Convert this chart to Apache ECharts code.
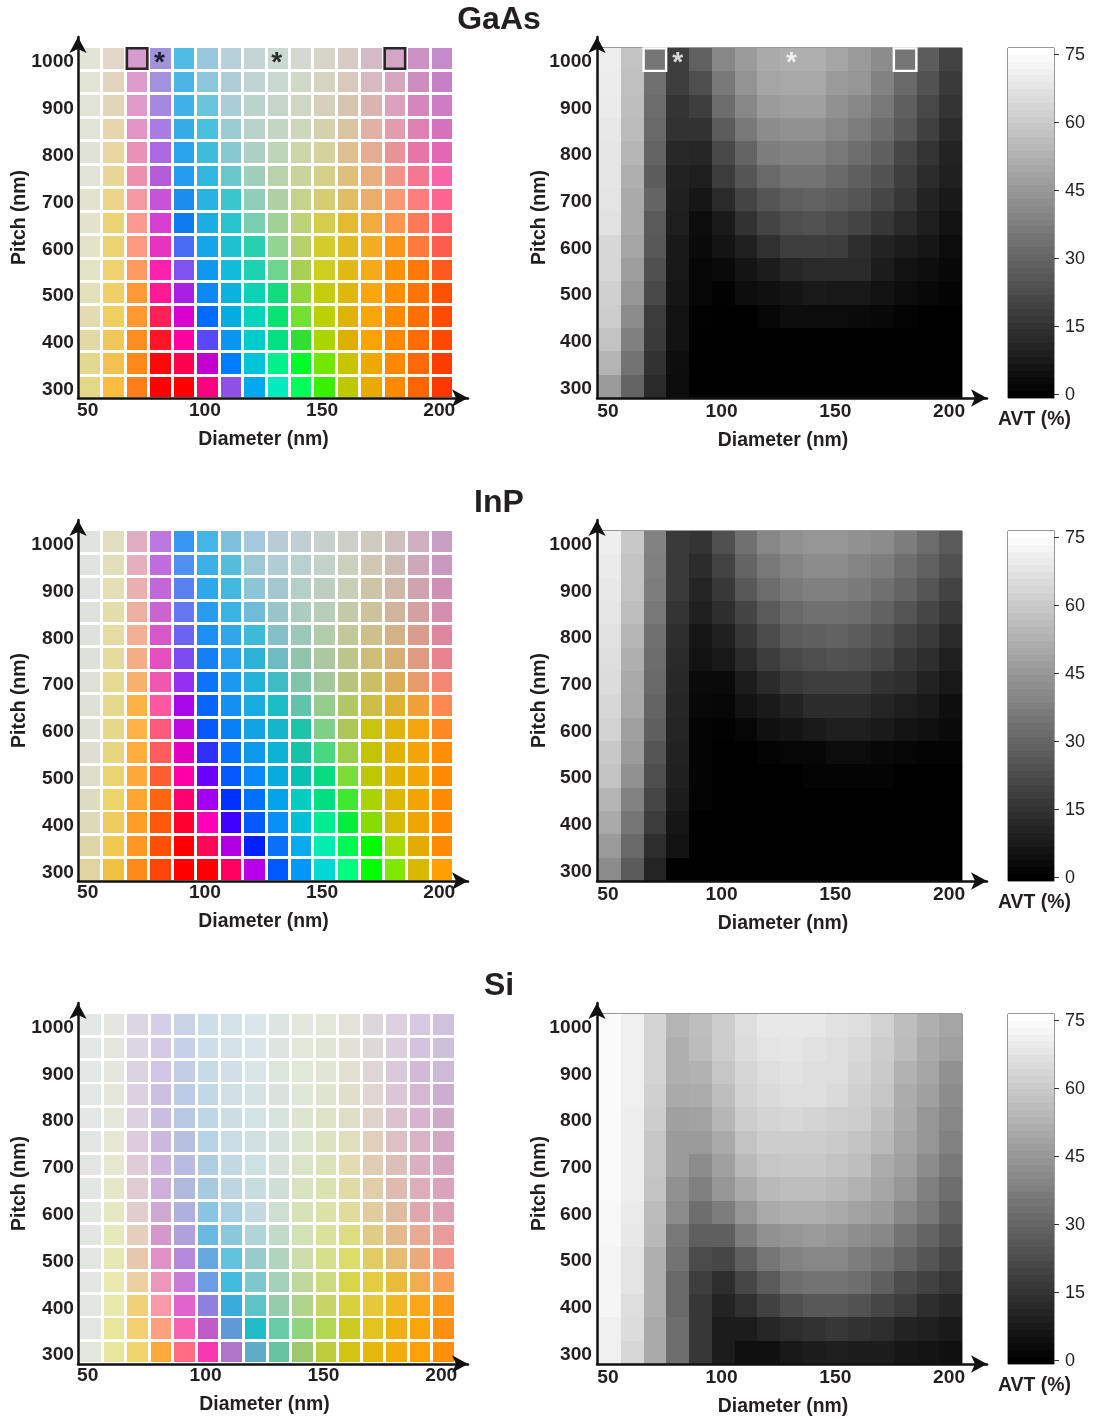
<!DOCTYPE html>
<html><head><meta charset="utf-8">
<style>html,body{margin:0;padding:0;background:#fff}#c{width:1094px;height:1420px}</style>
<script src="https://cdn.jsdelivr.net/npm/echarts@6/dist/echarts.min.js"></script>
</head><body><div id="c"></div>
<script>
const diameters = ['50','60','70','80','90','100','110','120','130','140','150','160','170','180','190','200'];
const pitches = ['300','350','400','450','500','550','600','650','700','750','800','850','900','950','1000'];
const colorbarLevels = [0,1.5,3,4.5,6,7.5,9,10.5,12,13.5,15,16.5,18,19.5,21,22.5,24,25.5,27,28.5,30,31.5,33,34.5,36,37.5,39,40.5,42,43.5,45,46.5,48,49.5,51,52.5,54,55.5,57,58.5,60,61.5,63,64.5,66,67.5,69,70.5,72,73.5,75];
const colorbarTicks = [0,15,30,45,60,75];
const panelTitles = ['GaAs','InP','Si'];
const boxedDiameters = ['70','180'];
const starredDiameters = ['80','130'];

// rows run from pitch 1000 (first) to pitch 300 (last)
const gaasColors = [
['#e2e4d6','#e3d5c7','#d69cd0','#a093dc','#50bbe4','#99c8de','#b7d0da','#c5d5d6','#cbd9d3','#d3d9cc','#d6d5c7','#d9cbc3','#d6bbc6','#d2a6c4','#cc92c5','#c58bcd'],
['#e2e4d6','#e3d4bd','#dc9ccc','#a191de','#4db5e6','#8cc6dc','#afcdd8','#c1d4d3','#c8d8cf','#d0d8c8','#d5d4c0','#d8c9bc','#d9b9c0','#d6a5c0','#cf8dbf','#c581c8'],
['#e1e3d6','#e3d5b8','#de9ac8','#a589e0','#40b0e8','#6ac4dc','#a8ced6','#bcd3cd','#c6d5c8','#cfd7c3','#d5d1b8','#d7c5b0','#dab4b0','#dca2bd','#d586bc','#cc7dc4'],
['#e1e3d6','#e6d5ae','#e295c4','#a97ce4','#33ace8','#48c0de','#9accd4','#b7d3c9','#c3d5c3','#ced7b9','#d5d1ac','#dac4a0','#e0b1a4','#e29cad','#dd80b2','#d572bd'],
['#e0e2d5','#e7d6a2','#e893b5','#ac68e0','#2ba3ec','#3dbcdc','#88c8d0','#add0c5','#bed5b8','#cdd6a8','#d5d29c','#dcc090','#e4ae93','#e6949a','#e675a8','#e268b5'],
['#e1e3d6','#e9d596','#ee8fb0','#b55cd8','#239ded','#31b7df','#6bc6cc','#a0ceb9','#bad2ac','#c9d49a','#d5d088','#dfbf7c','#e7ae80','#ef9686','#f4788f','#f565a8'],
['#e1e3ce','#ebd488','#f59aa4','#c853d8','#1c8cee','#2ab3e2','#3ac6cc','#90ceb8','#aed1a4','#c5d28c','#d6cc70','#e2bd63','#ecae6c','#f69a74','#fe7d7d','#ff638e'],
['#e2e3cb','#ecd475','#fa9a90','#d63fd0','#107bf0','#1eace5','#28c3cc','#78cfb2','#a0d296','#bfd278','#d6cb4c','#e4bb30','#f1ac3e','#fb964e','#ff7858','#ff5e6e'],
['#e2e3c8','#ecd372','#ff9a80','#e733bd','#4a6cf5','#14a6e8','#1ec2cf','#28d0b0','#90d590','#b8d06a','#d3cc2b','#e0ba20','#f0ae22','#fb961a','#ff7a3c','#ff5c50'],
['#e3e4c4','#edd26e','#ff9a5e','#fc20ad','#7e53f0','#0f98ee','#12bbd8','#1ed2b0','#6cd68a','#a9d052','#cdce1e','#dfba14','#f4ab18','#fb9106','#ff7808','#ff5a1c'],
['#e2e1bc','#efd068','#ff9a34','#ff1a94','#a820e4','#0c88f4','#0cb2de','#0ed2b5','#12dc7e','#93d63a','#c4cc0c','#dfb80c','#f8a80e','#ff8e04','#ff7406','#ff5200'],
['#e2dcb0','#efcf60','#ff982e','#ff2058','#d800d0','#006cff','#04acdf','#04d4bc','#0ae272','#72e030','#bbd005','#e0b406','#f9a60a','#ff8a00','#ff7000','#ff4c00'],
['#e2d9a4','#f0c858','#ff8e20','#ff1428','#ff00a0','#5a48ff','#0896f0','#00cccc','#02e080','#30e030','#acd400','#deb000','#faa404','#ff8800','#ff6c00','#ff4800'],
['#e2d890','#f4c050','#ff8818','#ff0808','#ff0050','#c400d0','#007cff','#00c4d8','#00f08c','#00fc28','#70e800','#c8c400','#ecaa00','#ff8800','#ff6808','#ff3c00'],
['#e3d888','#fcbc40','#ff7e18','#ff0000','#ff0000','#ff0080','#9050e8','#00a8f0','#00ecc0','#00ff58','#38f000','#bcc800','#e8ac00','#ff8a00','#ff6400','#ff3800']
];
const inpColors = [
['#e0e3e0','#e2dfc0','#e0aec0','#bd78e0','#3896f0','#45b5e8','#80c0dc','#a6c8dc','#b8ccd8','#bfcfd4','#c6d1ce','#cdcfc8','#cfcbc0','#cfbfbf','#ceafc0','#c8a0c5'],
['#e0e3e0','#e2dfbc','#e5b0bd','#c06cdf','#5090f0','#3cafe8','#55bcdc','#9cc8d8','#b0ccd4','#bad0d0','#c2d2c8','#cad0bc','#d0c8b4','#cebcb4','#cea8b8','#c898c0'],
['#dfe2de','#e3deb4','#e8b0b0','#c268d6','#5a80f0','#2ea8ec','#45b8e0','#8cc4d8','#a4c8d0','#b4cec8','#bccfc0','#c8cfb4','#cec5a8','#d0b8a8','#cfa4ae','#ce90b5'],
['#dee1dc','#e3ddac','#ecb0a0','#cc64d0','#6478f0','#289ced','#3cb4e2','#70bcd8','#98c4cc','#acccc0','#b8ceb8','#c4caa8','#ccc29c','#d2b49c','#d4a0a0','#d48eae'],
['#dee1dc','#e5dca4','#f0b094','#d658c8','#6a64f0','#1c90f0','#30a8e8','#3cbad8','#84c0c8','#9cc8b8','#b0ccaa','#c2c89a','#cdc08c','#d4b288','#da9c8c','#de88a0'],
['#dee1da','#e5db9c','#f4ae84','#e450be','#7c4cf0','#1480f4','#24a0ec','#2cb4d8','#6cbcc4','#90c4ac','#acc89e','#bcc688','#ccbe78','#d8ae72','#e09c80','#e8848e'],
['#dfe1d8','#e4da94','#f8b06e','#f058b0','#9430f0','#0c74f8','#1a9aee','#22b2da','#40bcc4','#80c4ac','#a0c898','#b8c47c','#ccbe64','#dcae5c','#e89c6c','#f48874'],
['#dfe1d6','#e4d98c','#fbb444','#ff58a0','#a808e8','#0866ff','#1490f4','#18acdf','#1cbcc4','#60c4ac','#94cc8c','#b0c864','#ccbe44','#e0b02e','#f0a038','#ff8850'],
['#dfe1d4','#e4d888','#feb444','#ff5a7c','#c008e0','#0858ff','#0880f8','#10a4e4','#14b6cc','#1cc4a8','#80cf88','#acc858','#cac410','#e2b410','#f4a40c','#ff8820'],
['#dedfd0','#e5d680','#ffae3c','#ff5c5c','#e000c0','#3030fc','#0870fa','#0c98ec','#0cb2d4','#14c4a4','#48d880','#9cd048','#c4c404','#e2b200','#f4a408','#ff8c04'],
['#dedec8','#e8d470','#ffaa38','#ff5e30','#ff00a8','#6a00ff','#0858ff','#0888fa','#08acdc','#08c0b0','#08dc80','#7cdc3c','#bcc800','#e0b400','#f4a404','#ff8a00'],
['#dedcc0','#ebd568','#ffa630','#ff6410','#ff0070','#a400f0','#0030ff','#0070ff','#04a4ec','#04ccc0','#00e080','#40e830','#a8d400','#dcb800','#f4a400','#ff8a00'],
['#dedab8','#eecc60','#ff9e26','#ff5808','#ff0030','#ff00b8','#4000ff','#0858ff','#0890f8','#00c0d8','#00ec90','#04ec3c','#88dc00','#d4bc00','#f0a400','#ff8a00'],
['#dfd6a8','#f0c850','#ff9620','#ff5004','#ff0000','#ff0858','#b000e0','#0020ff','#0870f8','#08acec','#00ecb0','#00f854','#00fa00','#a8d800','#e0ac00','#ff8a00'],
['#e0d4a0','#f0c040','#ff8a18','#ff4408','#ff0000','#ff0000','#ff0060','#b800e8','#0058ff','#0098fa','#00d8d8','#00fc80','#00ff00','#80e800','#d8b800','#ffa000']
];
const siColors = [
['#e3e7e5','#e5e5e2','#dcd6e4','#d4cfe6','#c9d3e8','#ceddea','#d5e1e9','#dbe6eb','#dde5e2','#e1e7dd','#e3e7da','#e2e1da','#ddd6da','#dbcfe0','#d4c9e0','#d1c2dc'],
['#e3e7e5','#e5e6de','#dcd6e4','#d3cbe5','#c5d1e8','#cddeeb','#d4e1e9','#d9e5e8','#dde5e0','#e1e8da','#e0e6d5','#e2e1d5','#ded9d8','#dccede','#d4c2df','#cfc0da'],
['#e3e7e5','#e5e6dd','#dcd3e2','#d0c5e5','#c2cee6','#c6dbe6','#d1e0e8','#d9e5e7','#dbe5dc','#e0e8d8','#e0e5d4','#e2e0d0','#ded6d6','#dac9da','#d2b9da','#cdb9d8'],
['#e3e7e5','#e5e6da','#ddd0e0','#ccc0e0','#bccce6','#c1d7e6','#d0dfe6','#d5e2e3','#d9e3dc','#dfe7d7','#dfe4d0','#e0dfcc','#e0d5d0','#dbc6d6','#d5b7d3','#ccaed0'],
['#e3e7e5','#e5e7d8','#dcd0e0','#c9bee2','#b8c9e4','#bfd6e6','#ccdde4','#d3e2e4','#d7e4de','#dde4d0','#dee3c7','#dfdec6','#dfd2c9','#dcc2cc','#d8b3d0','#d0a8c8'],
['#e3e7e4','#e6e8d3','#dccbdc','#cab8e0','#b8c0e2','#b7d2e6','#c8dde5','#d0e0e2','#d5e1dc','#dce6cf','#dde3bf','#e1dfbb','#e1cfbd','#dec0c4','#d9b2c4','#d4a7c5'],
['#e2e7e3','#e6e8cf','#dfccd8','#cdb5dd','#b7bce0','#aecde2','#c2d8e3','#cde0e3','#d5e1d9','#dbe4c7','#dde3b9','#e2dcb0','#e0ccb2','#ddbfba','#daafc0','#d5a5bf'],
['#e1e7e2','#e5e7c8','#e0cbd3','#cfb0db','#b0b8de','#a8cae0','#bcd5e1','#c8dcdf','#d0dfd5','#d8e2c0','#dae2b0','#e0daa4','#e1cea8','#dfbab0','#ddaeba','#d8a3bb'],
['#e2e7e2','#e6e8c4','#e2ccce','#d0a8d4','#aeb0e0','#88c5e2','#a9d0e0','#c2d9df','#ccdfd0','#d8e2b8','#dbe2a8','#dfdc9c','#e0cc9c','#dfbca0','#e0a8ad','#dea0b4'],
['#e2e7e2','#e6e9bc','#e6cebc','#d698cc','#b0a0dc','#68b8e2','#8cc8dc','#b0d4d8','#c0dcc8','#d1e2b4','#d8e29c','#dcdc80','#e0cc84','#e4ba8c','#e8aa94','#e89c9c'],
['#e2e7e2','#e6e9b4','#e8c8ac','#e090c4','#b488dc','#68a8e0','#60c2dc','#98cccc','#b0d4bc','#ccdfa8','#d6e08c','#dcdc68','#e0cc60','#e6bc70','#ecaa7c','#f09888'],
['#e2e7e2','#e8eab0','#ecd0a0','#ee96b8','#c87cd8','#6c9ce4','#40bcdc','#7cc8cc','#a4d2b8','#bed89c','#cedc80','#d6d648','#e2cc40','#e8bc38','#f0ae50','#f8a058'],
['#e2e7e2','#e8eaac','#f0d078','#f898a8','#e064cc','#8e80dc','#38acdc','#5cc4c8','#94cdac','#b0d48c','#c8d468','#d8d03c','#e6c838','#f0b824','#faa818','#ff9818'],
['#e2e5e0','#e8e69c','#f2d070','#ffa07c','#f860b0','#c05cc8','#6098d8','#20bcc8','#68cca8','#90d480','#b0d850','#cccc20','#e4c41c','#f0b010','#fca40c','#ff9010'],
['#e3e6da','#e8e69c','#f2d46c','#ffa83c','#ff6c84','#f838b0','#b074c8','#60acc8','#68c4a0','#9cc870','#bccc3c','#d4c414','#e4b80c','#f4ac0c','#ffa008','#ff9008']
];
const gaasAvt = [
[70,57.4,34.7,18.2,28.2,39.7,45.6,50,51.5,51.5,48.5,45.6,41.2,34.7,27,19.4],
[69.4,56.5,33,18.2,23,35.3,43.5,48.5,49.4,49.4,45.6,44.1,38.2,30.9,24.1,17],
[69.1,55.9,31.8,15.3,18.2,31.8,39.7,45.6,47,47,42.6,39.7,35.3,27.9,21.2,15.3],
[68.2,55.3,30.9,14.7,14.7,27,35.3,41.2,42.6,42.6,39.7,36.8,31.8,25.9,18.8,12.9],
[67.6,53.5,29.4,11.8,11.2,21.2,29.4,36.8,38.2,38.2,35.3,32.4,27.9,20.6,15.3,10.3],
[67.6,51.5,27,10,8.8,17.6,25,30.9,33.8,33.8,30.9,27.9,24.1,18.2,12.9,9.4],
[67.1,50,29.4,9.4,6.5,12.4,20,25,27.9,28.8,27,25,20.6,16.2,10.3,7.4],
[66.2,50,26.5,8.8,3.5,7.6,14.7,20,22.9,24.1,22,20,16.2,12.4,8.8,5.3],
[63.2,48.5,25.9,7.4,2.9,5.9,9.4,14.1,18.2,18.2,17.6,13.2,10.3,8.2,6.5,3.5],
[63.2,46.5,23.5,7.1,1.8,2.9,5.9,8.2,11.2,12.4,12.4,12.4,8.2,5.3,4.1,2.4],
[61.2,44.1,21.2,6.5,1.8,0.6,3.5,4.7,5.9,7.6,7.1,7.1,5.3,3.5,2.4,1.2],
[60.3,41.2,17.6,5.3,0.6,0,0,1.8,3.5,3.5,3.5,2.9,2.4,1.2,0,0],
[57.4,37.6,17.1,5.3,0,0,0,0,0,0,0,0,0,0,0,0],
[52.9,33.8,14.7,4.1,0,0,0,0,0,0,0,0,0,0,0,0],
[45.6,29.4,12.4,3.5,0,0,0,0,0,0,0,0,0,0,0,0]
];
const inpAvt = [
[70,58.8,38.2,17,15.3,23.5,32.9,39.7,42.6,44.1,44.1,42.6,41.2,36.8,31.8,26.5],
[69.1,57.4,37.6,17,12.9,19.4,29.4,35.3,38.8,41.2,41.2,38.8,36.8,32.4,28.2,23.5],
[68.2,57.4,36.8,17,10.6,16.5,25.9,31.8,35.9,37.6,37.6,35.9,32.9,29.4,24.7,19.4],
[67.6,55.9,35.3,15.3,9.4,13.5,20,26.5,30.9,32.9,32.9,31.8,28.8,24.7,20.6,16.5],
[66.2,53.5,32.9,13.5,6.5,9.4,16.2,22.1,27.1,27.9,28.8,27.1,24.1,20,17.1,12.4],
[65.3,51.5,31.8,12.4,5.3,7.1,12.4,17.6,21.2,22.9,24.1,22.9,20.6,16.2,13.5,9.4],
[64.7,50,30.9,11.8,2.9,2.9,8.2,12.4,16.5,18.2,18.2,18.2,14.7,13.5,10,7.1],
[63.2,49.4,29.4,11.2,2.4,1.8,5.3,7.6,10,12.9,12.9,12.9,10.6,8.8,7.1,4.1],
[61.8,47,27.9,10.6,1.2,0.6,1.8,4.7,5.9,7.6,8.8,8.8,7.6,5.9,4.7,2.9],
[58.8,45.6,25,10,1.2,0,0,1.2,1.8,1.8,3.5,3.5,2.4,1.8,1.2,1.2],
[57.4,42.6,22.9,9.4,1.2,0,0,0,0,1.2,1.2,1.2,1.2,0,0,0],
[52.9,38.2,20.6,8.2,1.2,0,0,0,0,0,0,0,0,0,0,0],
[50,34.7,17.6,6.5,0,0,0,0,0,0,0,0,0,0,0,0],
[45.6,30.9,13.2,5.3,0,0,0,0,0,0,0,0,0,0,0,0],
[41.2,26.5,10.6,0,0,0,0,0,0,0,0,0,0,0,0,0]
];
const siAvt = [
[73.5,70.6,62.4,52.9,55.9,60.3,65.3,68.2,68.2,68.2,66.5,65.3,61.8,55.9,51.5,48.5],
[73.5,70.6,62.4,51.5,55.3,60.3,64.7,67.1,67.6,66.5,65.3,63.5,60.3,55.3,50,47],
[73.5,70.6,62.4,51.5,52.4,58.2,62.9,65.3,66.5,65.3,65.3,62.4,59.4,52.4,48.5,42.6],
[73.5,70.6,61.2,50,50.6,55.9,61.8,64.1,65.3,65.3,64.1,61.2,58.2,50.6,47,41.2],
[73.5,70,60.3,47,47.6,53.5,60.3,62.4,63.2,62.4,61.2,60.3,55.9,50,44.1,39.7],
[73.5,70,58.2,45.6,45.6,50,57.4,60.3,60.3,60.3,59.4,57.4,54.4,48.5,44.1,38.2],
[73.5,70,58.2,45.6,41.2,47,54.4,58.2,58.8,58.8,57.4,55.9,50.6,47,41.2,35.3],
[73.5,70,57.4,42.6,37.6,44.1,50,54.4,55.9,55.9,54.4,52.4,48.5,44.1,37.6,32.4],
[72.9,69.1,55.3,41.2,32.4,36.8,44.1,50,51.5,51.5,50,47.6,45.6,39.7,35.3,28.8],
[72.9,68.2,54.4,35.3,27.9,27.9,36.8,42.6,44.1,45.6,44.1,41.8,39.7,33.8,29.4,25],
[72,67.1,51.5,33.8,22.1,20.6,27.9,34.7,38.2,39.7,39.7,36.8,33.8,29.4,25,20.6],
[72,67.1,51.5,30.9,18.2,13.2,20.6,26.5,32.4,33.8,33.8,32.4,27.9,22.1,19.1,16.2],
[72,65.3,51.5,30.9,16.2,10.3,14.1,19.1,23.5,25.9,25.9,24.1,20.6,17.6,13.2,11.2],
[70.6,64.7,50,32.4,16.2,8.2,8.2,11.2,13.2,14.7,16.2,14.7,13.2,10.3,9.4,7.6],
[70.6,63.2,50,32.4,16.2,8.2,4.4,4.4,7.1,8.2,8.8,8.2,8.2,6.5,5.9,4.7]
];

const colorSets = [gaasColors, inpColors, siColors];
const avtSets = [gaasAvt, inpAvt, siAvt];

const FONT = '"Liberation Sans", Arial, sans-serif';
const INK = '#231f20';
const ROW_TOP = [48, 531, 1014];
const AXIS_H = 350;
const CELL_TOP_SHIFT = 1.2;
const LEFT_X = 78.5, LEFT_W = [375, 375, 377], LEFT_H = [352, 351.5, 351];
const RIGHT_X = 598, RIGHT_W = 364;
const BAR_X = 1008, BAR_W = 46;

const grids = [], xAxes = [], yAxes = [], series = [], titles = [];
const tickLabel = {fontFamily: FONT, fontWeight: 'bold', fontSize: 19.2, color: INK};
const nameStyle = {fontFamily: FONT, fontWeight: 'bold', fontSize: 19.4, color: INK};

function addGrid(g, x, y) {
  const gi = grids.length; grids.push(g);
  const xi = xAxes.length; xAxes.push(Object.assign({gridIndex: gi}, x));
  const yi = yAxes.length; yAxes.push(Object.assign({gridIndex: gi}, y));
  return {gi, xi, yi};
}
function catAxes(o) {
  return [{
    type: 'category', data: diameters, boundaryGap: true,
    axisLine: {show: false}, axisTick: {show: false}, splitLine: {show: false},
    axisLabel: Object.assign({interval: 4, margin: o.xMargin, hideOverlap: false, padding: [0, o.xPad, 0, 0]}, tickLabel),
    name: 'Diameter (nm)', nameLocation: 'middle', nameGap: o.nameGap,
    nameTextStyle: Object.assign({padding: o.namePad}, nameStyle)
  }, {
    type: 'category', data: pitches, boundaryGap: true,
    axisLine: {show: false}, axisTick: {show: false}, splitLine: {show: false},
    axisLabel: {interval: 1, margin: o.yMargin, hideOverlap: false, formatter: '{v|{value}}',
      rich: {v: Object.assign({padding: [o.yPad, 0, 0, 0]}, tickLabel)}}
  }];
}
function arrows(x, top, bottom, width, nameGap) {
  const ax = {
    type: 'value', min: 0, max: 1, z: 6,
    axisLine: {show: true, symbol: ['none', 'arrow'], symbolSize: [13, 16], lineStyle: {color: '#111', width: 2.5}},
    axisTick: {show: false}, axisLabel: {show: false}, splitLine: {show: false}
  };
  addGrid({left: x, top: top, width: width, height: bottom - top},
    Object.assign({}, ax),
    Object.assign({}, ax, {name: 'Pitch (nm)', nameLocation: 'middle', nameGap: nameGap, nameTextStyle: nameStyle}));
}
function cellRenderer(gap) {
  return function (params, api) {
    const c = api.coord([api.value(0), api.value(1)]);
    const s = api.size([1, 1]);
    const x0 = Math.round(c[0] - s[0] / 2 + gap / 2), x1 = Math.round(c[0] + s[0] / 2 - gap / 2);
    const y0 = Math.round(c[1] - s[1] / 2 + gap / 2), y1 = Math.round(c[1] + s[1] / 2 - gap / 2);
    return {type: 'rect', shape: {x: x0, y: y0, width: x1 - x0, height: y1 - y0}, style: {fill: api.visual('color')}};
  };
}
function cells(ax, data, gap) {
  series.push({type: 'custom', renderItem: cellRenderer(gap), xAxisIndex: ax.xi, yAxisIndex: ax.yi,
    encode: {x: 0, y: 1}, data: data, z: 2, silent: true, clip: false, progressive: 0});
}
function markers(ax, stroke, width, size, starColor, starOffset, p) {
  if (p !== 0) return;
  series.push({
    type: 'scatter', xAxisIndex: ax.xi, yAxisIndex: ax.yi, z: 5, silent: true,
    symbol: 'rect', symbolSize: size,
    itemStyle: {color: 'rgba(0,0,0,0)', borderColor: stroke, borderWidth: width, opacity: 1},
    data: boxedDiameters.map(d => [d, '1000'])
  });
  series.push({
    type: 'scatter', xAxisIndex: ax.xi, yAxisIndex: ax.yi, z: 5, silent: true,
    symbol: 'circle', symbolSize: 1, itemStyle: {color: 'rgba(0,0,0,0)'},
    label: {show: true, position: 'inside', formatter: '*', offset: starOffset, color: starColor,
      fontFamily: FONT, fontWeight: 'bold', fontSize: 28},
    data: starredDiameters.map(d => [d, '1000'])
  });
}

const avtSeriesIdx = [];
panelTitles.forEach((t, p) => {
  const top = ROW_TOP[p], bottom = top + AXIS_H;
  titles.push({text: t, left: 494, top: top - 49, textAlign: 'center',
    textStyle: {fontFamily: FONT, fontWeight: 'bold', fontSize: 32, color: INK}});

  // colour panel
  const [lx, ly] = catAxes({xMargin: 2, yMargin: 4.5, xPad: 5, yPad: 6, nameGap: 31, namePad: [0, 5, 0, 0]});
  const la = addGrid({left: LEFT_X, top: top - CELL_TOP_SHIFT, width: LEFT_W[p], height: LEFT_H[p]}, lx, ly);
  const colorCells = [];
  colorSets[p].forEach((row, r) => row.forEach((c, k) => {
    colorCells.push({value: [k, pitches.length - 1 - r], itemStyle: {color: c}});
  }));
  cells(la, colorCells, 3);
  markers(la, '#2a2628', 2.6, [20.5, 20.5], '#000', [-1, 5], p);
  arrows(78, top - 11, bottom, 390, 49);

  // AVT panel
  const [rx, ry] = catAxes({xMargin: 4, yMargin: 6, xPad: 3, yPad: 4, nameGap: 33, namePad: [0, 0, 0, 6]});
  const ra = addGrid({left: RIGHT_X, top: top, width: RIGHT_W, height: AXIS_H,
    show: true, borderColor: '#333', borderWidth: 1, backgroundColor: 'transparent'}, rx, ry);
  const grayCells = [];
  avtSets[p].forEach((row, r) => row.forEach((v, k) => grayCells.push([k, pitches.length - 1 - r, v])));
  avtSeriesIdx.push(series.length);
  cells(ra, grayCells, 0);
  markers(ra, '#fff', 2.4, [22.5, 22.5], '#fff', [0, 4], p);
  arrows(597, top - 11, bottom, 390, 48);

  // colour bar
  const bg = grids.length;
  const ba = addGrid({left: BAR_X, top: top, width: BAR_W, height: AXIS_H,
      show: true, borderColor: '#333', borderWidth: 1, backgroundColor: 'transparent'},
    {type: 'category', data: ['AVT'], axisLine: {show: false}, axisTick: {show: false},
     axisLabel: {show: false}, name: 'AVT (%)', nameLocation: 'middle', nameGap: 12,
     nameTextStyle: Object.assign({padding: [0, 0, 0, 7]}, nameStyle)},
    {type: 'category', data: colorbarLevels.map(String), axisLine: {show: false},
     axisTick: {show: false}, axisLabel: {show: false}});
  yAxes.push({gridIndex: bg, type: 'value', position: 'right', min: -0.88, max: 76.3,
    axisLine: {show: true, lineStyle: {color: '#999', width: 1}},
    splitLine: {show: false},
    axisTick: {show: true, length: 5, inside: false, customValues: colorbarTicks, lineStyle: {color: '#333', width: 1}},
    axisLabel: {show: true, margin: 11, customValues: colorbarTicks, formatter: '{v|{value}}',
      rich: {v: {padding: [2, 0, 0, 0], fontFamily: FONT, fontSize: 18, color: INK}}}});
  avtSeriesIdx.push(series.length);
  cells(ba, colorbarLevels.map((v, i) => [0, i, v]), 0);
});

const chart = echarts.init(document.getElementById('c'), null, {renderer: 'canvas'});
chart.setOption({
  animation: false,
  backgroundColor: '#fff',
  title: titles,
  grid: grids,
  xAxis: xAxes,
  yAxis: yAxes,
  visualMap: {show: false, type: 'continuous', min: 0, max: 75, dimension: 2, seriesIndex: avtSeriesIdx,
    inRange: {color: ['#000000', '#ffffff']}},
  series: series
});
</script></body></html>
